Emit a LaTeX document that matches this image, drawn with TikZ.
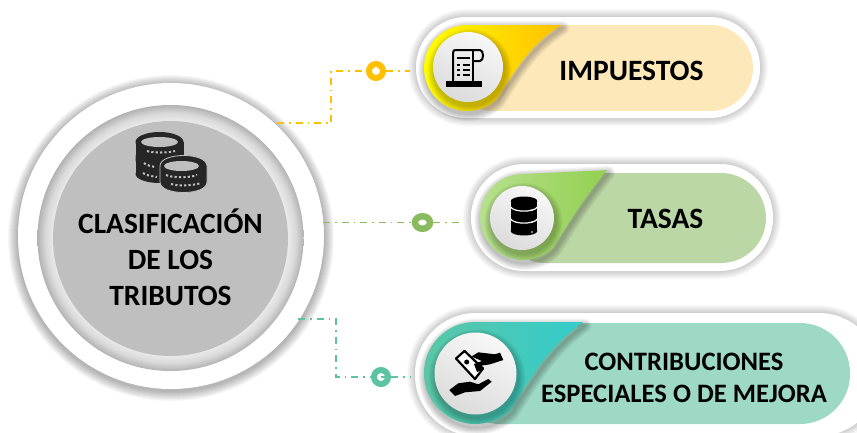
\documentclass[tikz,border=0pt]{standalone}
\usepackage{fontspec}
\setmainfont{Carlito}
\usetikzlibrary{shadings, shapes.geometric}

\definecolor{coinblack}{HTML}{262626}
\definecolor{discgray}{HTML}{BFBFBF}
\definecolor{lineyellow}{HTML}{FFC000}
\definecolor{linegreen}{HTML}{8ABB5E}
\definecolor{lineteal}{HTML}{5CC4A2}

\pgfdeclareradialshading{ringshade}{\pgfpoint{0cm}{0cm}}{color(0bp)=(white!90!black); color(22bp)=(white!92!black); color(23.5bp)=(white!85!black); color(25bp)=(white!70!black); color(50bp)=(white!70!black)}

\tikzset{
	pillbox/.style n args={3}{rectangle, fill=white, minimum width=#1, minimum height=#2, rounded corners=#3, inner sep=0pt, outer sep=0pt},
	ringnode/.style={circle, draw=#1, fill=white, line width=6pt, minimum size=14pt, inner sep=0pt},
	dashline/.style={draw=#1, line width=1.3pt, dash pattern=on 7pt off 5pt on 1.5pt off 5pt},
	title/.style={font=\fontsize{#1}{36}\selectfont\bfseries, align=center, inner sep=0pt},
}

% blob with tail, in units of its radius
\newcommand{\blobpath}{(45:1) arc (45:270:1) -- (\tipx,\tipy) .. controls (1.55,-.6) and (1.2,-.1) .. (45:1) -- cycle}
\newcommand{\coin}[5]{%
	\fill[coinblack] (#1-#3,#2) rectangle (#1+#3,#2+#5);
	\fill[coinblack] (#1,#2) ellipse [x radius=#3, y radius=#4];
	\fill[coinblack] (#1,#2+#5) ellipse [x radius=#3, y radius=#4];
}

\begin{document}
\begin{tikzpicture}[x=1pt, y=-1pt]
\clip (0,0) rectangle (857,432);
\fill[white] (0,0) rectangle (857,432);

% Shadows of the pills
\foreach \xa/\ya/\xb/\yb in {416/17/760/118, 471/164/773/271, 415/313/880/436}
	\foreach \r in {1,...,8}
		\fill[black, opacity=.025, rounded corners={(\yb-\ya)/2+\r}] (\xa-\r,\ya-\r) rectangle (\xb+\r,\yb+\r);

% Pills
\node[pillbox={344pt}{101pt}{50pt}] (impuestos) at (588,67.5) {};
\node[pillbox={302pt}{107pt}{53pt}] (tasas) at (622,217.5) {};
\node[pillbox={465pt}{123pt}{61pt}] (contribuciones) at (647.5,374.5) {};
\fill[fill={rgb,255:red,253;green,232;blue,186}, rounded corners=43pt] (450,25) rectangle (753,111);
\fill[fill={rgb,255:red,188;green,215;blue,166}, rounded corners=45pt] (500,173) rectangle (766,263);
\fill[fill={rgb,255:red,157;green,217;blue,197}, rounded corners=50pt] (450,323) rectangle (850,424);

% Blobs and white discs
\foreach \cx/\cy/\rb/\dx/\dy/\ri/\tipx/\tipy/\cola/\colb in {467/68/43/468/67/35/2.19/-1/FFFF00/FFC000, 523/217/43/522/218/32/1.95/-1.09/B8E08F/92D050, 475/373/51/475.5/373.5/41/2.12/-1/5CC6A4/33CCCC}
{
	\definecolor{blobleft}{HTML}{\cola}
	\definecolor{blobright}{HTML}{\colb}
	\begin{scope}[shift={(\cx,\cy)}, scale=\rb]
		\foreach \w in {2,4,...,14}
			\draw[black, opacity=.04, line width=\w pt, line join=round, shift={(.03,.07)}] \blobpath;
		\shade[left color=blobleft, middle color=blobright, right color=blobright] \blobpath;
	\end{scope}
	\foreach \r in {1,...,8}
		\fill[black, opacity=.03] (\dx+1.5,\dy+4) circle ({\ri+\r*.9});
	\shade[top color=white!97!black, bottom color=white!86!black, shading angle=-25] (\dx,\dy) circle (\ri);
}

% Scroll icon
\begin{scope}[line width=2pt, black]
	\fill (446,80.5) rectangle (482,86.5);
	\draw (453,81) -- (453,53) .. controls (453,50.5) and (454,50) .. (456,50) -- (480,50) .. controls (484,50) and (484,61) .. (480,61) -- (474,61);
	\draw (473,50.5) -- (473,81);
	\draw (457,58) -- (470,58);
	\foreach \y in {65,70,75} {
		\fill (457,\y-1) rectangle (460,\y+1);
		\draw[line width=1.6pt] (462.5,\y) -- (470,\y);
	}
\end{scope}

% Database icon
\begin{scope}
	\fill[black] (510.7,201) rectangle (537.3,231);
	\fill[black] (524,201) ellipse [x radius=13.3, y radius=4.5];
	\fill[black] (524,231) ellipse [x radius=13.3, y radius=4.5];
	\foreach \y in {207,219}
		\draw[white, line width=1.2pt] (510.7,\y) .. controls (514,\y+5.5) and (534,\y+5.5) .. (537.3,\y);
	\foreach \y in {210,222,232}
		\fill[white] (532,\y) circle (.9);
\end{scope}

% Hands with banknote
\begin{scope}
	\draw[black, line width=2.2pt, fill=white, line join=round] (456,358.5) -- (464.5,351) -- (483,368.5) -- (475,379) -- cycle;
	\fill[black] (466.7,362) circle (2.5);
	\fill[black] (471.5,356.5) -- (478.3,352.3) -- (495,354.3) -- (500,352.7) -- (503.3,360) -- (490,364.3) -- (482,365.5) -- (483,369.5) -- (477,372) -- (474,364) -- (482,361) -- cycle;
	\fill[black] (449.3,390) -- (458.3,383.3) -- (470,381.7) -- (478.3,384.3) -- (488.3,379) -- (491.7,381.7) -- (480,391) -- (465,392.3) -- (455,396) -- cycle;
\end{scope}

% Central disc
\foreach \r in {1,...,10}
	\fill[black, opacity=.03] (171,238) circle (153+\r);
\fill[white] (171,236) circle (153);
\shade[shading=ringshade] (170.5,238) circle (133);
\node[circle, fill=discgray, minimum size=235pt, inner sep=0pt] (disc) at (170.5,238.5) {};

% Coins
\coin{159.5}{142}{24}{10}{15}
\coin{159.5}{160}{24}{9}{14}
\draw[discgray, line width=.8pt, fill=coinblack] (160,166) -- (160,182) .. controls (160,196) and (207,196) .. (207,182) -- (207,166) .. controls (207,152) and (160,152) .. (160,166) -- cycle;
\fill[discgray] (159.5,142) ellipse [x radius=18.5, y radius=5];
\fill[discgray] (181.5,166) ellipse [x radius=17.5, y radius=5];
\begin{scope}[discgray, line width=2pt, dash pattern=on 2.2pt off 2.2pt]
	\draw (147,151) .. controls (152,153) and (168,153) .. (175,151);
	\draw (144,163) .. controls (146,165) and (150,166) .. (155,167);
	\draw (143,173) .. controls (146,175) and (150,176) .. (157,177);
	\draw (166,175) .. controls (172,178) and (190,178) .. (197,175);
	\draw (171,184) .. controls (177,186) and (192,186) .. (201,183);
\end{scope}

% Labels
\node[title=29.4] (centro) at (170.5,257) {CLASIFICACIÓN\\DE LOS\\TRIBUTOS};
\node[title=29.5] (impuestostxt) at (631.5,71) {IMPUESTOS};
\node[title=29.5] (tasastxt) at (665.5,219) {TASAS};
\node[title=26.6, font=\fontsize{26.6}{32}\selectfont\bfseries] (contribtxt) at (684,378) {CONTRIBUCIONES\\ESPECIALES O DE MEJORA};

% Connectors
\coordinate (startA) at (277,123);
\coordinate (kinkA) at (331,71);
\coordinate (startB) at (323,222.5);
\coordinate (startC) at (298,319);
\coordinate (kinkC) at (336,377);
\node[ringnode=lineyellow] (ringA) at (376,71) {};
\node[ringnode=linegreen, ellipse, line width=6.5pt, minimum width=15pt, minimum height=12.5pt] (ringB) at (422.5,222.5) {};
\node[ringnode=lineteal] (ringC) at (381,377) {};
\fill[lineteal] (381,376.2) rectangle (386,377.8);
\draw[dashline=lineyellow] (startA) -| (kinkA) -- (ringA);
\draw[dashline=lineyellow, shorten >=6pt] (ringA) -- (ringA -| impuestos.west);
\draw[dashline=linegreen] (startB) -- (ringB);
\draw[dashline=linegreen, shorten >=11pt] (ringB) -- (ringB -| tasas.west);
\draw[dashline=lineteal] (startC) -| (kinkC) -- (ringC);
\draw[dashline=lineteal, shorten >=4pt] (ringC) -- (ringC -| contribuciones.west);
\end{tikzpicture}
\end{document}
